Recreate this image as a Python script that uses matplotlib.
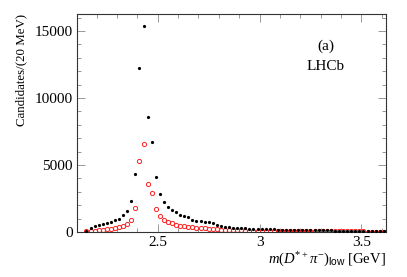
import numpy as np
import matplotlib
matplotlib.use("Agg")
import matplotlib.pyplot as plt
from matplotlib.ticker import MultipleLocator

plt.rcParams["font.family"] = ["Liberation Serif", "DejaVu Serif"]
plt.rcParams["mathtext.fontset"] = "custom"
plt.rcParams["mathtext.rm"] = "Liberation Serif"
plt.rcParams["mathtext.it"] = "Liberation Serif:italic"
plt.rcParams["mathtext.bf"] = "Liberation Serif:bold"
plt.rcParams["mathtext.sf"] = "Liberation Sans"

# bin centres, 20 MeV wide
mass = np.round(np.arange(2.15, 3.6101, 0.02), 3)

# all candidates (black, filled)
cand_all = [100, 320, 420, 500, 570, 700, 770, 900, 1000, 1290,
            1540, 2310, 4330, 12260, 15400, 8560, 6690, 4100, 2860, 2240,
            1890, 1640, 1490, 1240, 1220, 1120, 920, 820, 800, 770,
            750, 670, 520, 470, 370, 370, 320, 320, 300, 270,
            250, 250, 220, 210, 200, 200, 190, 180, 180, 170,
            160, 160, 150, 150, 140, 140, 130, 130, 120, 120,
            120, 110, 110, 110, 100, 100, 100, 100, 95, 95,
            90, 90, 90, 85]

# second sample (red, open)
cand_sel = [50, 75, 100, 125, 175, 200, 250, 300, 350, 420,
            600, 900, 1770, 5320, 6540, 3610, 2890, 1740, 1170, 870,
            750, 650, 550, 470, 420, 400, 350, 300, 270, 270,
            250, 220, 200, 175, 150, 140, 130, 120, 115, 110,
            105, 100, 95, 90, 85, 80, 80, 75, 70, 70,
            65, 65, 60, 60, 55, 55, 55, 50, 50, 50,
            45, 45, 45, 45, 40, 40, 40, 40, 40, 35,
            35, 35, 35, 35]

fig = plt.figure(figsize=(4.07, 2.77), dpi=100)
ax = fig.add_axes([0.189, 0.1625, 0.759, 0.787])

ax.plot(mass, cand_sel, "o", ms=3.0, mfc="none", mec="#ff2020", mew=0.7, zorder=2)
ax.plot(mass, cand_all, "o", ms=2.3, color="black", mew=0, zorder=3)

ax.set_xlim(2.103, 3.62)
ax.set_ylim(0, 16270)

ax.xaxis.set_major_locator(MultipleLocator(0.5))
ax.xaxis.set_minor_locator(MultipleLocator(0.1))
ax.yaxis.set_major_locator(MultipleLocator(5000))
ax.yaxis.set_minor_locator(MultipleLocator(1000))
ax.set_xticks([2.5, 3.0, 3.5])
ax.set_xticklabels(["2.5", "3", "3.5"])
ax.set_yticks([0, 5000, 10000, 15000])

ax.tick_params(which="both", direction="in", top=True, right=True,
               color="#888888", width=0.6, labelsize=11, pad=3)
ax.tick_params(which="major", length=6)
ax.tick_params(which="minor", length=3)
for sp in ax.spines.values():
    sp.set_color("#333333")
    sp.set_linewidth(0.8)

ax.set_ylabel("Candidates/(20 MeV)", fontsize=9.3, loc="top", labelpad=5)
ax.set_xlabel(r"$m(D^{*+}\pi^{-})_{\mathsf{low}}$ [GeV]", fontsize=10.5, loc="right",
              labelpad=1)

ax.text(0.805, 0.85, "(a)", transform=ax.transAxes, fontsize=11, ha="center", va="center")
ax.text(0.805, 0.76, "LHCb", transform=ax.transAxes, fontsize=11, ha="center", va="center")

fig.savefig("out.png", dpi=100)
